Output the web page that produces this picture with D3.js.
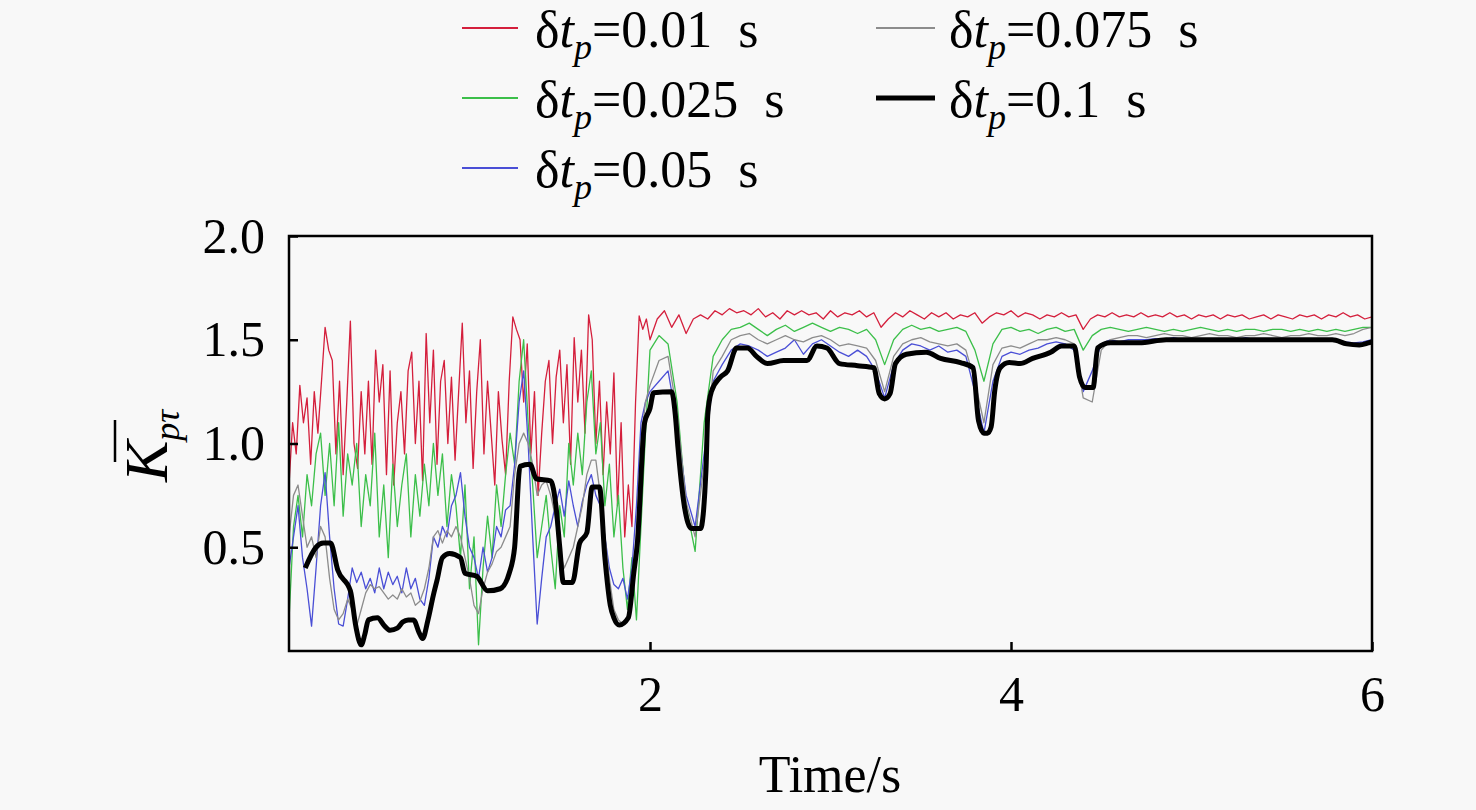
<!DOCTYPE html>
<html><head><meta charset="utf-8">
<script src="https://cdn.jsdelivr.net/npm/d3@7/dist/d3.min.js"></script>
<style>
html,body{margin:0;padding:0;background:#f8f8f8;}
svg{display:block;}
text{font-family:"Liberation Serif","Times New Roman",serif;fill:#000;}
</style></head>
<body>
<svg id="chart" width="1476" height="810"></svg>
<script>
// ---------------- DATA ----------------
const seriesNames = ["δt_p=0.01 s","δt_p=0.025 s","δt_p=0.05 s","δt_p=0.075 s","δt_p=0.1 s"];
const legendLabels = ["0.01","0.025","0.05","0.075","0.1"];
const xTicks = [2,4,6];
const yTicks = [0.5,1.0,1.5,2.0];

// δt_p = 0.01 s : samples every 0.02 s from 0 to 2.00, then every 0.04 s from 2.04 to 6.00
const redEarly = [0.80,1.10,0.95,1.28,1.10,1.22,0.90,1.25,1.05,1.30,1.56,1.45,1.40,0.95,1.30,0.85,1.20,1.59,1.00,0.88,
  1.25,0.95,1.30,0.90,1.45,1.20,1.38,0.85,1.35,0.80,1.10,1.25,0.95,1.35,1.44,1.00,1.30,0.82,1.53,1.10,
  1.45,0.90,1.30,1.40,1.00,1.32,0.92,1.25,1.58,1.10,1.35,0.88,1.25,1.50,0.95,1.30,1.05,0.80,1.25,1.02,
  0.85,1.30,1.61,1.55,1.50,1.20,1.48,0.95,1.25,0.75,1.05,1.30,1.40,1.00,1.32,1.45,1.10,1.38,0.90,1.51,
  1.20,1.45,1.05,1.62,1.50,1.00,1.30,0.85,1.20,0.95,1.34,0.70,1.10,0.55,0.80,0.60,1.20,1.615,1.55,1.60,1.50];
const redLate = [1.60,1.64,1.56,1.62,1.53,1.60,1.62,1.60,1.64,1.62,1.65,1.63,1.64,1.62,1.65,1.61,1.63,1.60,1.64,1.62,
  1.64,1.62,1.63,1.60,1.64,1.61,1.63,1.62,1.64,1.61,1.63,1.56,1.60,1.63,1.61,1.64,1.62,1.60,1.63,1.61,
  1.63,1.60,1.62,1.61,1.63,1.58,1.61,1.63,1.62,1.64,1.61,1.63,1.62,1.60,1.62,1.61,1.63,1.61,1.62,1.55,
  1.60,1.62,1.61,1.63,1.61,1.62,1.61,1.63,1.61,1.62,1.61,1.63,1.61,1.62,1.60,1.62,1.61,1.62,1.60,1.62,
  1.61,1.62,1.60,1.61,1.62,1.60,1.62,1.61,1.60,1.62,1.61,1.62,1.60,1.62,1.61,1.63,1.61,1.62,1.60,1.61];

// δt_p = 0.025 s : every 0.025 s from 0 to 2.00, then every 0.05 s from 2.05 to 6.00
const greenEarly = [0.15,0.60,0.75,0.55,0.85,0.70,0.95,1.05,0.75,1.00,0.70,1.10,0.65,0.95,0.80,1.00,0.60,0.85,0.70,1.05,
  0.55,0.80,0.45,0.90,0.60,0.80,0.95,0.55,0.85,0.65,0.90,0.70,1.00,0.75,0.95,0.60,0.85,0.70,0.45,0.80,
  0.30,0.55,0.03,0.40,0.65,0.45,0.80,0.60,0.85,1.05,0.90,1.30,1.50,1.10,0.80,0.45,0.60,0.75,0.50,0.30,
  0.70,0.55,1.00,0.80,1.05,0.85,1.20,1.35,0.95,1.10,0.70,0.90,0.55,0.75,0.40,0.20,0.45,0.15,0.60,1.05,1.45];
const greenLate = [1.52,1.48,1.20,0.70,0.48,1.10,1.42,1.50,1.55,1.56,1.58,1.55,1.52,1.55,1.57,1.54,1.56,1.58,1.56,1.54,
  1.56,1.55,1.53,1.55,1.50,1.38,1.50,1.55,1.57,1.55,1.56,1.54,1.55,1.56,1.54,1.45,1.30,1.48,1.55,1.56,
  1.54,1.55,1.53,1.55,1.56,1.54,1.55,1.45,1.52,1.55,1.56,1.55,1.54,1.55,1.56,1.55,1.54,1.55,1.54,1.55,
  1.56,1.55,1.54,1.55,1.54,1.55,1.55,1.54,1.55,1.55,1.54,1.55,1.54,1.55,1.54,1.55,1.54,1.55,1.56,1.56];

// δt_p = 0.05 s
const blueEarly = [0.40,0.55,0.70,0.45,0.30,0.12,0.40,0.70,0.86,0.55,0.30,0.13,0.12,0.25,0.40,0.33,0.38,0.30,0.35,0.28,
  0.40,0.30,0.38,0.32,0.36,0.28,0.40,0.30,0.35,0.25,0.22,0.35,0.55,0.50,0.60,0.55,0.70,0.75,0.86,0.65,
  0.50,0.45,0.35,0.50,0.38,0.45,0.60,0.55,0.68,0.70,0.90,1.20,1.35,1.00,0.55,0.13,0.35,0.55,0.60,0.70,
  0.78,0.65,0.82,0.70,0.60,0.72,0.80,0.85,0.75,0.70,0.55,0.40,0.32,0.30,0.35,0.25,0.40,0.70,1.10,1.20,1.25];
const blueLate = [1.30,1.35,1.10,0.75,0.60,0.95,1.30,1.38,1.45,1.48,1.47,1.45,1.42,1.44,1.46,1.50,1.43,1.48,1.50,1.47,
  1.44,1.42,1.45,1.42,1.35,1.22,1.38,1.45,1.48,1.47,1.45,1.47,1.44,1.45,1.42,1.25,1.05,1.30,1.42,1.44,
  1.43,1.45,1.46,1.48,1.49,1.48,1.45,1.25,1.35,1.48,1.50,1.49,1.50,1.50,1.50,1.505,1.50,1.51,1.50,1.505,
  1.50,1.505,1.50,1.505,1.50,1.51,1.50,1.505,1.50,1.505,1.50,1.505,1.50,1.505,1.50,1.50,1.49,1.485,1.49,1.50];

// δt_p = 0.075 s
const greyEarly = [0.55,0.75,0.80,0.65,0.50,0.55,0.45,0.60,0.55,0.35,0.20,0.15,0.18,0.25,0.20,0.12,0.20,0.28,0.32,0.30,
  0.31,0.28,0.25,0.27,0.25,0.30,0.26,0.28,0.22,0.24,0.30,0.40,0.55,0.58,0.52,0.58,0.55,0.60,0.55,0.45,
  0.35,0.22,0.18,0.30,0.38,0.42,0.48,0.50,0.55,0.60,0.85,1.00,1.05,1.00,0.90,0.75,0.80,0.82,0.75,0.65,
  0.48,0.40,0.45,0.50,0.60,0.70,0.85,0.92,0.92,0.75,0.55,0.35,0.20,0.15,0.13,0.15,0.25,0.55,1.00,1.20,1.28];
const greyLate = [1.40,1.42,1.15,0.72,0.55,0.90,1.35,1.42,1.50,1.52,1.53,1.50,1.48,1.50,1.52,1.50,1.49,1.51,1.52,1.50,
  1.47,1.48,1.47,1.46,1.40,1.25,1.42,1.48,1.50,1.51,1.49,1.48,1.47,1.48,1.45,1.30,1.10,1.38,1.46,1.47,
  1.46,1.48,1.50,1.50,1.51,1.50,1.48,1.22,1.20,1.45,1.50,1.51,1.52,1.52,1.51,1.52,1.53,1.52,1.52,1.51,
  1.52,1.53,1.52,1.52,1.51,1.52,1.52,1.53,1.52,1.51,1.52,1.52,1.53,1.52,1.52,1.53,1.52,1.53,1.55,1.56];

// δt_p = 0.1 s : [time, value]
const blackPts = [[0.09,0.40],[0.15,0.50],[0.19,0.52],[0.23,0.52],[0.27,0.39],[0.34,0.29],[0.37,0.12],[0.40,0.03],[0.42,0.08],[0.44,0.15],
  [0.49,0.16],[0.53,0.12],[0.56,0.10],[0.60,0.11],[0.63,0.14],[0.66,0.15],[0.69,0.15],[0.72,0.09],[0.74,0.06],[0.77,0.15],
  [0.80,0.27],[0.82,0.34],[0.85,0.45],[0.89,0.47],[0.95,0.45],[0.975,0.375],[1.04,0.36],[1.10,0.29],[1.17,0.30],[1.22,0.375],
  [1.25,0.50],[1.28,0.89],[1.335,0.90],[1.37,0.83],[1.45,0.82],[1.48,0.69],[1.50,0.50],[1.52,0.33],[1.57,0.33],[1.61,0.52],
  [1.65,0.57],[1.68,0.79],[1.72,0.79],[1.75,0.45],[1.78,0.22],[1.80,0.16],[1.83,0.125],[1.88,0.16],[1.91,0.375],[1.93,0.52],
  [1.97,1.10],[2.00,1.17],[2.02,1.245],[2.12,1.25],[2.14,1.14],[2.155,0.98],[2.19,0.70],[2.23,0.59],[2.28,0.59],[2.31,0.87],
  [2.32,1.14],[2.34,1.25],[2.39,1.32],[2.43,1.35],[2.48,1.46],[2.54,1.46],[2.59,1.42],[2.65,1.385],[2.74,1.40],[2.87,1.40],
  [2.925,1.47],[2.98,1.46],[3.05,1.385],[3.15,1.375],[3.24,1.365],[3.27,1.24],[3.30,1.215],[3.33,1.24],[3.36,1.385],[3.42,1.43],
  [3.53,1.44],[3.61,1.41],[3.72,1.39],[3.79,1.365],[3.82,1.11],[3.85,1.05],[3.87,1.05],[3.89,1.08],[3.91,1.255],[3.94,1.365],
  [3.99,1.39],[4.05,1.385],[4.12,1.41],[4.22,1.44],[4.28,1.47],[4.35,1.47],[4.38,1.32],[4.41,1.27],[4.455,1.27],[4.48,1.46],
  [4.55,1.485],[4.71,1.485],[4.86,1.50],[5.23,1.50],[5.78,1.50],[5.86,1.48],[5.93,1.475],[5.98,1.485],[6.00,1.49]];

const colors = ["#d41f3c","#3cbf4a","#4a4fd6","#8c8c8c","#000000"];

// ---------------- BUILD ----------------
function sampled(early, stepE, late, startL, stepL){
  const out = early.map((v,i)=>[i*stepE, v]);
  late.forEach((v,i)=>out.push([startL + i*stepL, v]));
  return out;
}
const series = [
  sampled(redEarly,0.02,redLate,2.04,0.04),
  sampled(greenEarly,0.025,greenLate,2.05,0.05),
  sampled(blueEarly,0.025,blueLate,2.05,0.05),
  sampled(greyEarly,0.025,greyLate,2.05,0.05),
  blackPts
];

const svg = d3.select("#chart");
const L=289, R=1372, T=236, B=651;
const x = d3.scaleLinear().domain([0,6]).range([L,R]);
const y = d3.scaleLinear().domain([0,2]).range([B,T]);

svg.append("defs").append("clipPath").attr("id","clip")
  .append("rect").attr("x",L).attr("y",T).attr("width",R-L).attr("height",B-T);

const line = d3.line().x(d=>x(d[0])).y(d=>y(d[1]));
const smooth = d3.line().x(d=>x(d[0])).y(d=>y(d[1])).curve(d3.curveMonotoneX);

const g = svg.append("g").attr("clip-path","url(#clip)");
series.forEach((s,i)=>{
  g.append("path").datum(s)
    .attr("d", i===4 ? smooth : line)
    .attr("fill","none")
    .attr("stroke",colors[i])
    .attr("stroke-width", i===4 ? 5 : 1.3)
    .attr("stroke-linejoin","round");
});

// axes
const yAxis = d3.axisLeft(y).tickValues(yTicks).tickFormat(d3.format(".1f")).tickSize(-9).tickPadding(24);
const xAxis = d3.axisBottom(x).tickValues(xTicks).tickFormat(d3.format("d")).tickSize(-9).tickPadding(24);
const ya = svg.append("g").attr("transform",`translate(${L},0)`).call(yAxis);
const xa = svg.append("g").attr("transform",`translate(0,${B})`).call(xAxis);
[ya,xa].forEach(a=>{
  a.select(".domain").remove();
  a.selectAll(".tick line").attr("stroke","#000").attr("stroke-width",2.5);
  a.selectAll(".tick text").style("font-family","'Liberation Serif',serif").style("font-size","50px").attr("fill","#000");
});

svg.append("rect").attr("x",L).attr("y",T).attr("width",R-L).attr("height",B-T)
  .attr("fill","none").attr("stroke","#000").attr("stroke-width",2.5);

// x label
svg.append("text").attr("x",830).attr("y",792).attr("text-anchor","middle")
  .style("font-size","52px").text("Time/s");

// y label  K̄_pτ
const yl = svg.append("g").attr("transform","translate(167,482) rotate(-90)");
const yt = yl.append("text").attr("x",0).attr("y",0);
yt.append("tspan").style("font-size","62px").style("font-style","italic").text("K");
yt.append("tspan").attr("dy",12).style("font-size","36px").style("font-style","italic").text("pτ");
yl.append("line").attr("x1",20).attr("x2",62).attr("y1",-52).attr("y2",-52)
  .attr("stroke","#000").attr("stroke-width",2.5);

// legend
const legPos = [[462,518,535,47],[462,518,535,117],[462,518,535,187],[876,935,949,47],[876,935,949,117]];
legPos.forEach((p,i)=>{
  svg.append("line").attr("x1",p[0]).attr("x2",p[1]).attr("y1",p[3]-19).attr("y2",p[3]-19)
    .attr("stroke",colors[i]).attr("stroke-width", i===4 ? 5 : 2);
  const t = svg.append("text").attr("x",p[2]).attr("y",p[3]).style("font-size","52px");
  t.append("tspan").text("δ");
  t.append("tspan").style("font-style","italic").text("t");
  t.append("tspan").attr("dy",12).style("font-style","italic").style("font-size","36px").text("p");
  t.append("tspan").attr("dy",-12).text("=" + legendLabels[i] + "\u00a0 s");
});
</script>
</body></html>
